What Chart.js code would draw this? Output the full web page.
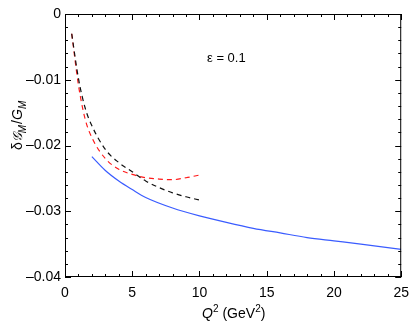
<!DOCTYPE html>
<html>
<head>
<meta charset="utf-8">
<script src="https://cdn.jsdelivr.net/npm/chart.js@4"></script>
<style>
    html, body { margin: 0; padding: 0; background: #fff; }
    #wrap { width: 417px; height: 322px; }
</style>
</head>
<body>
<div id="wrap"><canvas id="chart"></canvas></div>
<script>
// Values
const blackQ2 = [0.5, 1, 1.5, 2, 3, 4, 5, 6, 7, 8, 9, 10];
const blackVals = [-0.0030, -0.0098, -0.0143, -0.0170, -0.0206, -0.0226, -0.0240, -0.0254, -0.0264, -0.0272, -0.0278, -0.0283];

const redQ2 = [0.5, 1, 1.5, 2, 3, 4, 5, 6, 7, 8, 9, 10];
const redVals = [-0.0030, -0.0108, -0.0160, -0.0188, -0.0220, -0.0236, -0.0244, -0.0249, -0.0251, -0.0252, -0.0249, -0.0245];

const blueQ2 = [2, 3, 4, 5, 6, 8, 10, 12, 14, 16, 18, 20, 22, 25];
const blueVals = [-0.0217, -0.0238, -0.0254, -0.0267, -0.0279, -0.0295, -0.0307, -0.0317, -0.0326, -0.0333, -0.0340, -0.0345, -0.0350, -0.0358];

const xTicks = [0, 5, 10, 15, 20, 25];
const yTicks = [0, -0.01, -0.02, -0.03, -0.04];

const FONT = '"Liberation Sans", Arial, sans-serif';

function pts(xs, ys) {
    return xs.map((x, i) => ({ x: x, y: ys[i] }));
}

// Frame, inward ticks and the text that has sub/superscripts
const decor = {
    id: 'decor',
    afterDraw(chart) {
        const ctx = chart.ctx;
        const a = chart.chartArea;
        const xs = chart.scales.x, ys = chart.scales.y;
        ctx.save();
        ctx.strokeStyle = '#000';
        ctx.lineWidth = 1;
        ctx.strokeRect(a.left + 0.5, a.top + 0.5, a.right - a.left - 1, a.bottom - a.top - 1);

        ctx.beginPath();
        for (let v = 0; v <= 25; v += 1) {
            const px = Math.round(xs.getPixelForValue(v)) + 0.5;
            const len = v % 5 === 0 ? 6 : 3;
            ctx.moveTo(px, a.bottom); ctx.lineTo(px, a.bottom - len);
            ctx.moveTo(px, a.top); ctx.lineTo(px, a.top + len);
        }
        for (let k = 0; k <= 20; k++) {
            const v = -k * 0.002;
            const py = Math.round(ys.getPixelForValue(v)) + 0.5;
            const len = k % 5 === 0 ? 6 : 3;
            ctx.moveTo(a.left, py); ctx.lineTo(a.left + len, py);
            ctx.moveTo(a.right, py); ctx.lineTo(a.right - len, py);
        }
        ctx.stroke();

        ctx.fillStyle = '#000';
        ctx.textBaseline = 'alphabetic';
        ctx.textAlign = 'left';

        // epsilon label
        ctx.font = '13px ' + FONT;
        ctx.fillText('ε = 0.1', 207, 62);

        // x title: Q^2 (GeV^2)
        let x = 202, y = 318;
        ctx.font = 'italic 14px ' + FONT;
        ctx.fillText('Q', x, y); x += ctx.measureText('Q').width;
        ctx.font = '10px ' + FONT;
        ctx.fillText('2', x, y - 6); x += ctx.measureText('2').width + 4;
        ctx.font = '14px ' + FONT;
        ctx.fillText('(GeV', x, y); x += ctx.measureText('(GeV').width;
        ctx.font = '10px ' + FONT;
        ctx.fillText('2', x, y - 6); x += ctx.measureText('2').width;
        ctx.font = '14px ' + FONT;
        ctx.fillText(')', x, y);

        // y title: δG_M/G_M, rotated
        ctx.translate(22, 150);
        ctx.rotate(-Math.PI / 2);
        x = 0; y = 0;
        ctx.font = '14px ' + FONT;
        ctx.fillText('δ', x, y); x += ctx.measureText('δ').width;
        ctx.font = 'italic 13px "DejaVu Serif", serif';
        ctx.fillText('𝒢', x, y); x += ctx.measureText('𝒢').width;
        ctx.font = 'italic 10px ' + FONT;
        ctx.fillText('M', x, y + 4); x += ctx.measureText('M').width + 1;
        ctx.font = '14px ' + FONT;
        ctx.fillText('/', x, y); x += ctx.measureText('/').width;
        ctx.font = 'italic 14px ' + FONT;
        ctx.fillText('G', x, y); x += ctx.measureText('G').width;
        ctx.font = 'italic 10px ' + FONT;
        ctx.fillText('M', x, y + 4);
        ctx.restore();
    }
};

new Chart(document.getElementById('chart'), {
    type: 'line',
    data: {
        datasets: [
            {
                label: 'blue',
                data: pts(blueQ2, blueVals),
                borderColor: '#3a5cff',
                borderWidth: 1.2,
                pointRadius: 0,
                cubicInterpolationMode: 'monotone'
            },
            {
                label: 'black',
                data: pts(blackQ2, blackVals),
                borderColor: '#111',
                borderWidth: 1.2,
                borderDash: [5, 4],
                pointRadius: 0,
                cubicInterpolationMode: 'monotone'
            },
            {
                label: 'red',
                data: pts(redQ2, redVals),
                borderColor: '#ff1a1a',
                borderWidth: 1.2,
                borderDash: [5, 4],
                pointRadius: 0,
                cubicInterpolationMode: 'monotone'
            }
        ]
    },
    options: {
        responsive: true,
        maintainAspectRatio: false,
        animation: false,
        layout: { padding: { top: 14, right: 14, left: 0, bottom: 0 } },
        plugins: {
            legend: { display: false },
            tooltip: { enabled: false }
        },
        scales: {
            x: {
                type: 'linear',
                min: 0,
                max: 25,
                grid: { display: false, drawTicks: false },
                border: { display: false },
                afterBuildTicks: s => { s.ticks = xTicks.map(v => ({ value: v })); },
                afterFit: s => { s.height = 45; },
                ticks: {
                    color: '#000',
                    padding: 8,
                    maxRotation: 0,
                    font: { family: FONT, size: 14 },
                    callback: v => String(v)
                }
            },
            y: {
                type: 'linear',
                min: -0.04,
                max: 0,
                grid: { display: false, drawTicks: false },
                border: { display: false },
                afterBuildTicks: s => { s.ticks = yTicks.map(v => ({ value: v })); },
                afterFit: s => { s.width = 65; },
                ticks: {
                    color: '#000',
                    padding: 4,
                    font: { family: FONT, size: 14 },
                    callback: v => v === 0 ? '0' : '\u2013' + Math.abs(v).toFixed(2)
                }
            }
        }
    },
    plugins: [decor]
});
</script>
</body>
</html>
